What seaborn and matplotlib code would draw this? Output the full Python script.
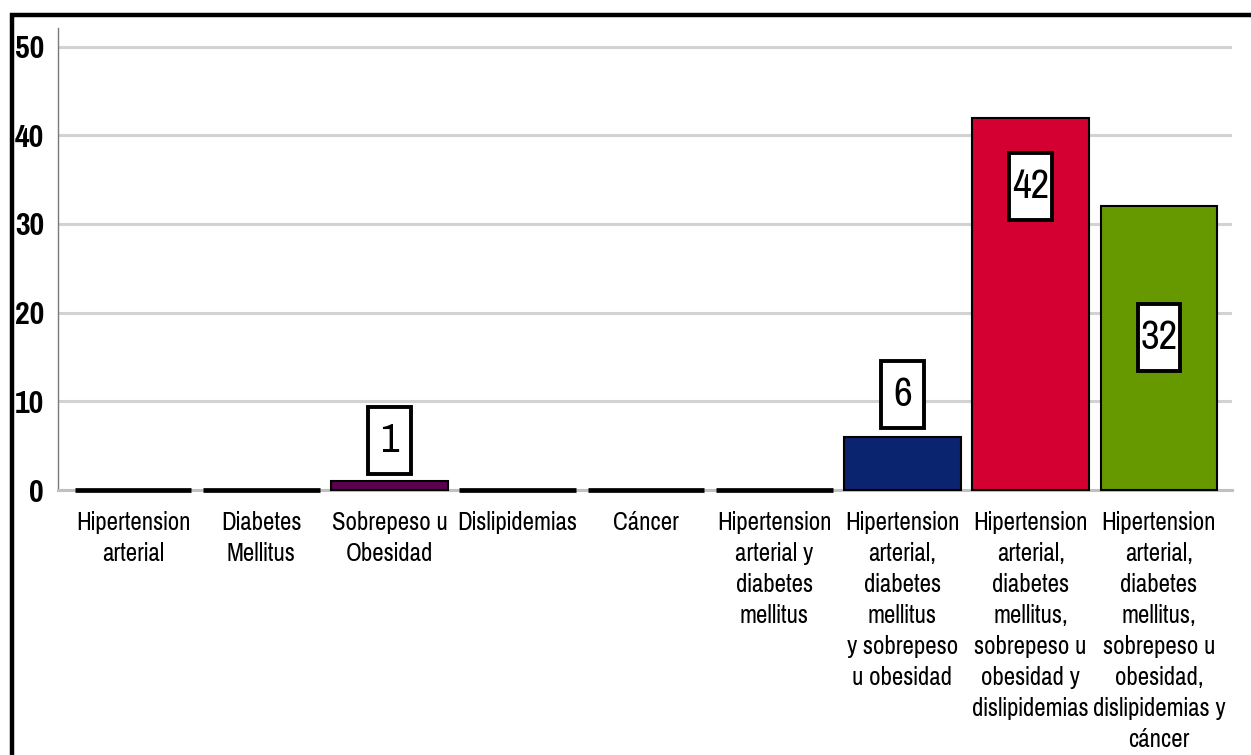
import matplotlib
matplotlib.use("Agg")
import matplotlib.pyplot as plt
import seaborn as sns
import pandas as pd
from matplotlib import font_manager
from matplotlib.path import Path
from matplotlib.patches import Rectangle

# Categories (tick labels) and counts
categories = [
    "Hipertension\narterial",
    "Diabetes\nMellitus",
    "Sobrepeso u\nObesidad",
    "Dislipidemias",
    "Cáncer",
    "Hipertension\narterial y\ndiabetes\nmellitus",
    "Hipertension\narterial,\ndiabetes\nmellitus\ny sobrepeso\nu obesidad",
    "Hipertension\narterial,\ndiabetes\nmellitus,\nsobrepeso u\nobesidad y\ndislipidemias",
    "Hipertension\narterial,\ndiabetes\nmellitus,\nsobrepeso u\nobesidad,\ndislipidemias y\ncáncer",
]
counts = [0, 0, 1, 0, 0, 0, 6, 42, 32]
bar_colors = ["#000000", "#000000", "#5c0050", "#000000", "#000000",
              "#000000", "#0b2470", "#d50032", "#669900"]
# vertical placement of each value box, relative to the bar top (data units)
label_offsets = [None, None, 4.6, None, None, None, 4.8, -7.8, -14.8]
y_ticks = [0, 10, 20, 30, 40, 50]

installed = {f.name for f in font_manager.fontManager.ttflist}
NARROW = next((n for n in ["Pragati Narrow", "Archivo Narrow", "PT Sans Narrow",
                           "Roboto Condensed", "IBM Plex Sans Condensed"]
               if n in installed), "DejaVu Sans")

sns.set_theme(style="white")
plt.rcParams["font.family"] = [NARROW, "DejaVu Sans"]

df = pd.DataFrame({"cat": categories, "n": counts})

fig = plt.figure(figsize=(12.51, 7.55), dpi=100)
ax = fig.add_axes([58 / 1251, 1 - 490 / 755, (1232 - 58) / 1251, (490 - 28) / 755])

sns.barplot(data=df, x="cat", y="n", hue="cat", palette=bar_colors, legend=False,
            width=0.91, edgecolor="black", linewidth=1.5, saturation=1, ax=ax)

for p in ax.patches:
    p.set_clip_on(False)
    p.set_zorder(3)
    if p.get_height() == 0:
        p.set_linewidth(3.4)

ax.set_xlim(-0.585, 8.57)
ax.set_ylim(0, 52.1)
ax.set_yticks(y_ticks)
ax.set_xlabel("")
ax.set_ylabel("")
ax.yaxis.grid(True, color="#d2d2d2", linewidth=2.2)
ax.xaxis.grid(False)
ax.set_axisbelow(True)

for s in ("top", "right"):
    ax.spines[s].set_visible(False)
ax.spines["left"].set_color("#7a7a7a")
ax.spines["left"].set_linewidth(1.0)
ax.spines["bottom"].set_color("#c0c0c0")
ax.spines["bottom"].set_linewidth(2.2)

ax.tick_params(axis="y", length=0, pad=10, labelsize=25)
for t in ax.get_yticklabels():
    t.set_fontweight("bold")
    t.set_color("black")
ax.tick_params(axis="x", length=0, pad=15, labelsize=19.5)
for t in ax.get_xticklabels():
    t.set_color("black")
    t.set_linespacing(1.42)


def tall_box(x0, y0, width, height, mutation_size):
    # narrow, tall frame with a minimum width so one- and two-digit labels match
    w = max(width + 0.12 * mutation_size, 0.95 * mutation_size)
    pady = 0.34 * mutation_size
    cx = x0 + width / 2
    xa, xb = cx - w / 2, cx + w / 2
    ya, yb = y0 - pady, y0 + height + pady
    return Path([(xa, ya), (xb, ya), (xb, yb), (xa, yb), (xa, ya)], closed=True)


for i, (v, off) in enumerate(zip(counts, label_offsets)):
    if off is None:
        continue
    ax.text(i, v + off, f"{v}", ha="center", va="center", fontsize=32,
            color="black", zorder=5,
            bbox=dict(boxstyle=tall_box, facecolor="white", edgecolor="black",
                      linewidth=2.8))

# outer frame around the figure
fig.patches.append(Rectangle((12 / 1251, -0.2), 1.2, 1.2 - 15 / 755,
                             transform=fig.transFigure, fill=False,
                             edgecolor="black", linewidth=3.2, figure=fig))

fig.savefig("out.png", dpi=100)
